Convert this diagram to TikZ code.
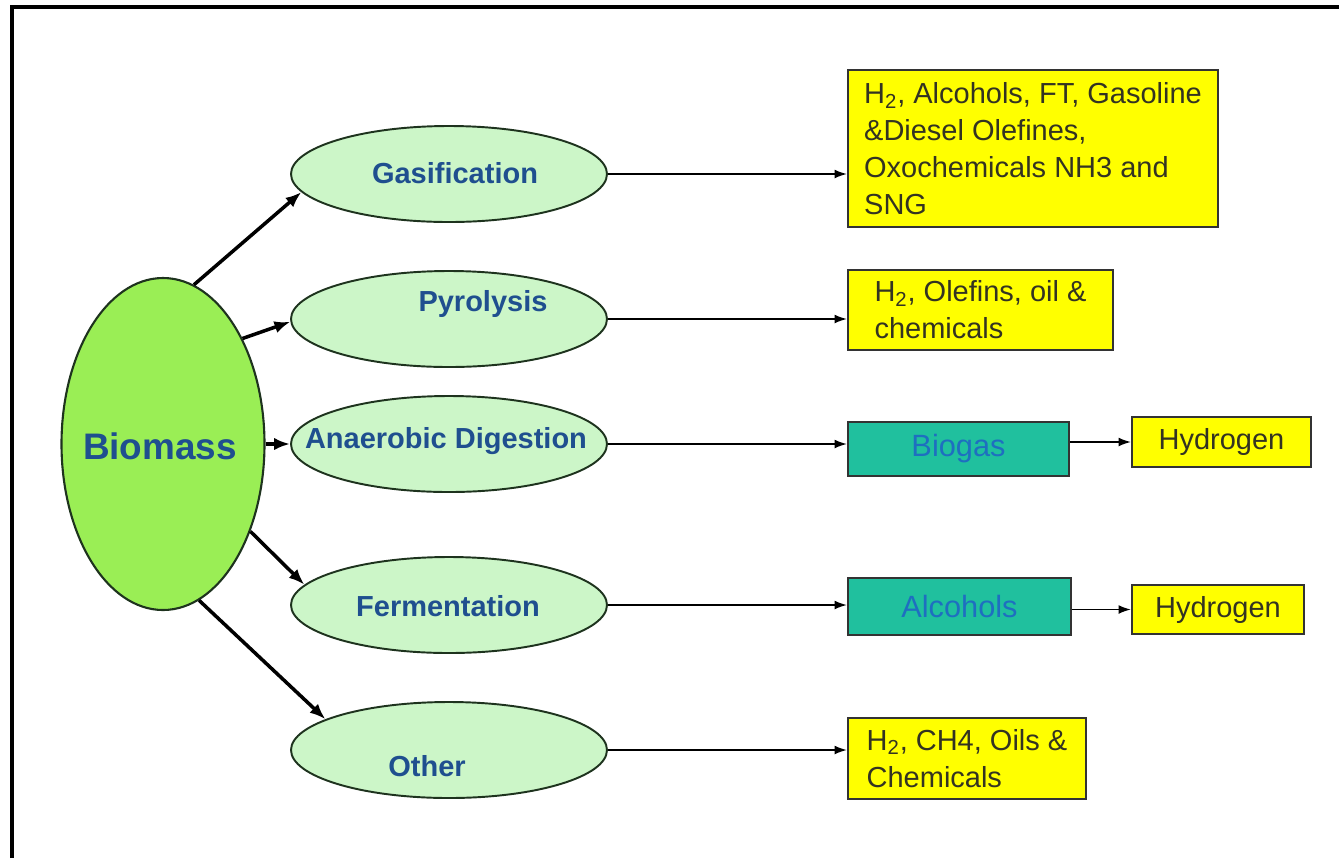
\documentclass[tikz,border=0pt]{standalone}
\usepackage{fontspec}
\setmainfont{Liberation Sans}
\usetikzlibrary{arrows.meta, positioning, calc, shapes.geometric}
\definecolor{biogreen}{HTML}{9AEE55}
\definecolor{procgreen}{HTML}{CCF6C8}
\definecolor{edgegreen}{HTML}{1E331E}
\definecolor{procblue}{HTML}{1F4F8F}
\definecolor{midblue}{HTML}{1E6FC0}
\definecolor{prodyellow}{HTML}{FFFF00}
\definecolor{midteal}{HTML}{20C09E}
\definecolor{prodtext}{HTML}{333322}

\begin{document}
\begin{tikzpicture}[>={Latex[length=7pt,width=5pt]}, line width=0.9pt,
      src/.style={ellipse, draw=edgegreen, fill=biogreen, line width=1.2pt,
                  minimum width=4.06cm, minimum height=6.64cm, inner sep=0pt},
      proc/.style={ellipse, draw=edgegreen, fill=procgreen, line width=1.1pt,
                   minimum width=6.32cm, minimum height=1.92cm, inner sep=0pt},
      ptxt/.style={font=\fontsize{16.5}{21}\selectfont\bfseries, text=procblue, inner sep=0pt},
      prod/.style={draw=black!80, fill=prodyellow, line width=1.2pt, text=prodtext,
                   font=\fontsize{16.5}{21}\selectfont, align=left, inner sep=0pt},
      mid/.style={draw=black!80, fill=midteal, line width=1.2pt, text=midblue,
                  font=\fontsize{17.5}{21}\selectfont, inner sep=0pt},
      feed/.style={-{Latex[length=9pt,width=7pt]}, line width=2pt}]
    \useasboundingbox (0,0) rectangle (26.78,-17.16);
    \draw[line width=2.3pt] (0.24,-17.16) -- (0.24,-0.14) -- (26.78,-0.14);
    % biomass and processes
    \node[src] (bio) at (3.26,-8.88) {};
    \node[ptxt, font=\fontsize{21}{25}\selectfont\bfseries] (biot) at (3.20,-8.92) {Biomass};
    \node[proc] (gas) at (8.98,-3.48) {};
    \node[ptxt] (gast) at (9.10,-3.46) {Gasification};
    \node[proc] (pyr) at (8.98,-6.38) {};
    \node[ptxt] (pyrt) at (9.66,-6.08) {Pyrolysis};
    \node[proc] (ana) at (8.98,-8.88) {};
    \node[ptxt] (anat) at (8.92,-8.82) {Anaerobic Digestion};
    \node[proc] (fer) at (8.98,-12.10) {};
    \node[ptxt] (fert) at (8.96,-12.12) {Fermentation};
    \node[proc] (oth) at (8.98,-15.00) {};
    \node[ptxt] (otht) at (8.54,-15.32) {Other};
    % products
    \node[prod, minimum width=7.40cm, minimum height=3.14cm] (fuels) at (20.66,-2.97)
      {H\textsubscript{2}, Alcohols, FT, Gasoline\\ \&Diesel Olefines,\\ Oxochemicals NH3 and\\ SNG};
    \node[prod, minimum width=5.30cm, minimum height=1.60cm] (olef) at (19.61,-6.20)
      {H\textsubscript{2}, Olefins, oil \&\\ chemicals};
    \node[mid, minimum width=4.42cm, minimum height=1.08cm] (biogas) at (19.17,-8.98) {Biogas};
    \node[prod, minimum width=3.58cm, minimum height=1.00cm] (hyda) at (24.43,-8.84) {Hydrogen};
    \node[mid, minimum width=4.46cm, minimum height=1.14cm] (alc) at (19.19,-12.13) {Alcohols};
    \node[prod, minimum width=3.44cm, minimum height=0.98cm] (hydb) at (24.36,-12.19) {Hydrogen};
    \node[prod, minimum width=4.76cm, minimum height=1.62cm] (chem) at (19.34,-15.17)
      {H\textsubscript{2}, CH4, Oils \&\\ Chemicals};
    % connectors
    \draw[feed] (bio.79) -- (gas.187);
    \draw[feed] (bio.53) -- (pyr.181);
    \draw[feed] (bio.0) -- (ana.180);
    \draw[feed] (bio.-45) -- (fer.172);
    \draw[feed] (bio.-77) -- (oth.166);
    \draw[->] (gas.east) -- (gas.east -| fuels.west);
    \draw[->] (pyr.east) -- (pyr.east -| olef.west);
    \draw[->] (ana.east) -- (ana.east -| biogas.west);
    \draw[->] (fer.east) -- (fer.east -| alc.west);
    \draw[->] (oth.east) -- (oth.east -| chem.west);
    \draw[->] (biogas.east |- hyda.west) -- (hyda.west);
    \draw[->] (alc.east |- hydb.west) -- (hydb.west);
  \end{tikzpicture}
\end{document}
